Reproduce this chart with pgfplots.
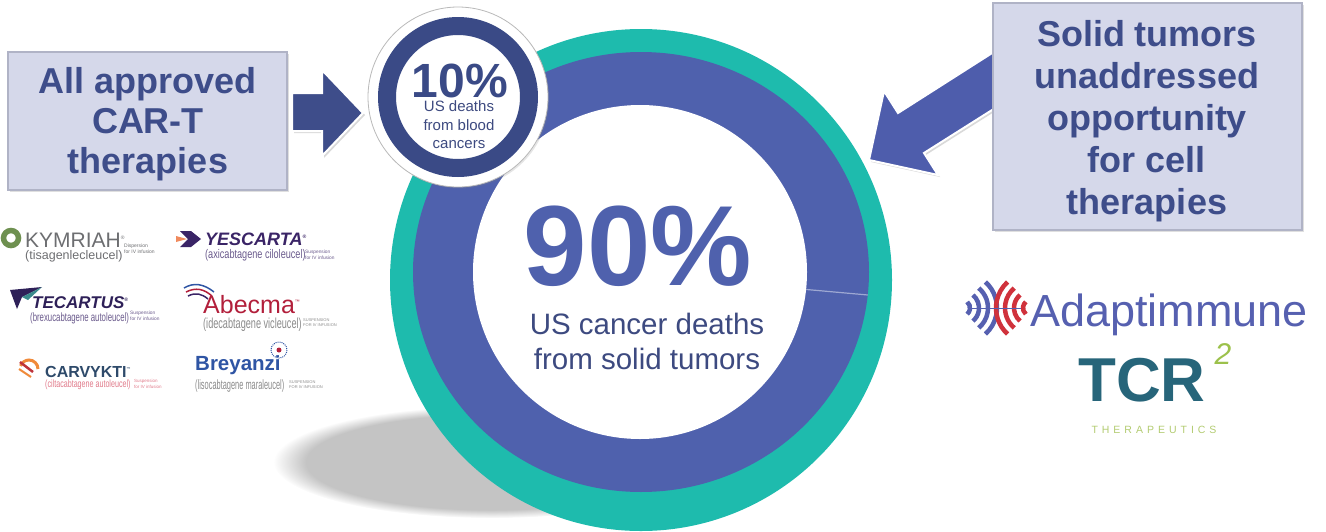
\documentclass[border=0pt]{standalone}
\usepackage{pgfplots}
\pgfplotsset{compat=1.18}
\usepackage{pgfplotstable}
\usepackage{fontspec}
\setmainfont{Liberation Sans}
\newfontfamily\spaced[LetterSpace=38]{Liberation Sans}
\usetikzlibrary{shadows,fadings}
\definecolor{teal1}{HTML}{1EBBAD}
\definecolor{ringblue}{HTML}{4F61AD}
\definecolor{darkring}{HTML}{3A4A86}
\definecolor{txtblue}{HTML}{3D4A80}
\definecolor{boxfill}{HTML}{D5D8EA}
\definecolor{boxline}{HTML}{B0B3C6}
\definecolor{arrowL}{HTML}{3E4D8A}
\definecolor{arrowR}{HTML}{4E5DAC}
\definecolor{shadowgray}{HTML}{C4C4C4}
\definecolor{kymgray}{HTML}{6D6E71}
\definecolor{kymgreen}{HTML}{6E9050}
\definecolor{yespurple}{HTML}{3A2466}
\definecolor{yessub}{HTML}{6A5A8C}
\definecolor{yesorange}{HTML}{F08A5D}
\definecolor{tecpurple}{HTML}{2E2058}
\definecolor{tecteal}{HTML}{3A8A8C}
\definecolor{abred}{HTML}{B21F3B}
\definecolor{subgray}{HTML}{8A8A8A}
\definecolor{carblue}{HTML}{2E4A6A}
\definecolor{carpink}{HTML}{E07A8A}
\definecolor{carorange}{HTML}{F08A3A}
\definecolor{brblue}{HTML}{2F55A4}
\definecolor{adblue}{HTML}{5660B0}
\definecolor{adred}{HTML}{D0323C}
\definecolor{tcrteal}{HTML}{27657A}
\definecolor{tcrgreen}{HTML}{9CC14B}
\definecolor{tcrlight}{HTML}{B2CB70}
\pgfplotstableread{
segment share
solid 90
blood 10
}\deathshares
\begin{document}
\begin{tikzpicture}
\begin{axis}[width=1326pt,height=531pt,scale only axis,
  xmin=0,xmax=1326,ymin=0,ymax=531,y dir=reverse,
  axis lines=none,ticks=none,clip=false]
% shadow under the donut
\fill[shadowgray,path fading=circle with fuzzy edge 15 percent] (axis cs:492,462) ellipse[x radius=218,y radius=56];
% donut
\fill[teal1] (axis cs:641,280) circle[radius=251];
\fill[ringblue] (axis cs:641,272) ellipse[x radius=228,y radius=220];
\fill[white] (axis cs:640,272) circle[radius=167];
\draw[color=ringblue!55!white,line width=1.2] (axis cs:{640+167*cos(6)},{272+167*sin(6)}) -- (axis cs:{641+228*cos(6)},{272+220*sin(6)});
% big centre text
\node[anchor=base,text=ringblue,font=\fontsize{114}{114}\selectfont\bfseries,inner sep=0] at (axis cs:638,285) {90\%};
\node[anchor=base,text=txtblue,font=\fontsize{29.5}{29.5}\selectfont,inner sep=0] at (axis cs:647,334) {US cancer deaths};
\node[anchor=base,text=txtblue,font=\fontsize{29.5}{29.5}\selectfont,inner sep=0] at (axis cs:647,369) {from solid tumors};
% left box
\filldraw[fill=boxfill,draw=boxline,line width=1.2,drop shadow={shadow xshift=2pt,shadow yshift=-2pt,opacity=0.25}] (axis cs:8,52) rectangle (axis cs:287,190);
\node[anchor=base,text=arrowL,font=\fontsize{36}{36}\selectfont\bfseries,inner sep=0] at (axis cs:148,93) {All approved};
\node[anchor=base,text=arrowL,font=\fontsize{36}{36}\selectfont\bfseries,inner sep=0] at (axis cs:148,133) {CAR-T};
\node[anchor=base,text=arrowL,font=\fontsize{36}{36}\selectfont\bfseries,inner sep=0] at (axis cs:148,173) {therapies};
% left arrow
\filldraw[fill=arrowL,draw=white,line width=2,drop shadow={shadow xshift=2pt,shadow yshift=-2pt,opacity=0.3}] (axis cs:292,93) -- (axis cs:322,93) -- (axis cs:322,70) -- (axis cs:363,113) -- (axis cs:322,156) -- (axis cs:322,131) -- (axis cs:292,131) -- cycle;
% small circle
\filldraw[fill=white,draw=gray!55,line width=0.8,drop shadow={shadow xshift=1.5pt,shadow yshift=-1.5pt,opacity=0.2}] (axis cs:458,97) circle[radius=90];
\fill[darkring,even odd rule] (axis cs:458,97) circle[radius=80] (axis cs:458,97) circle[radius=62];
\node[anchor=base,text=darkring,font=\fontsize{48}{48}\selectfont\bfseries,inner sep=0] at (axis cs:460,97) {10\%};
\node[anchor=base,text=txtblue,font=\fontsize{15}{15}\selectfont,inner sep=0] at (axis cs:459,111) {US deaths};
\node[anchor=base,text=txtblue,font=\fontsize{15}{15}\selectfont,inner sep=0] at (axis cs:459,130) {from blood};
\node[anchor=base,text=txtblue,font=\fontsize{15}{15}\selectfont,inner sep=0] at (axis cs:459,148) {cancers};
% right arrow
\filldraw[fill=arrowR,draw=white,line width=2,drop shadow={shadow xshift=2pt,shadow yshift=-2pt,opacity=0.3}] (axis cs:1000,48) -- (axis cs:898,113) -- (axis cs:884,91) -- (axis cs:869,160) -- (axis cs:938,175) -- (axis cs:924,153) -- (axis cs:1000,105) -- cycle;
% right box
\filldraw[fill=boxfill,draw=boxline,line width=1.2,drop shadow={shadow xshift=2pt,shadow yshift=-2pt,opacity=0.25}] (axis cs:993,3) rectangle (axis cs:1302,230);
\node[anchor=base,text=arrowL,font=\fontsize{36}{36}\selectfont\bfseries,inner sep=0] at (axis cs:1147,46) {Solid tumors};
\node[anchor=base,text=arrowL,font=\fontsize{36}{36}\selectfont\bfseries,inner sep=0] at (axis cs:1147,88) {unaddressed};
\node[anchor=base,text=arrowL,font=\fontsize{36}{36}\selectfont\bfseries,inner sep=0] at (axis cs:1147,130) {opportunity};
\node[anchor=base,text=arrowL,font=\fontsize{36}{36}\selectfont\bfseries,inner sep=0] at (axis cs:1147,172) {for cell};
\node[anchor=base,text=arrowL,font=\fontsize{36}{36}\selectfont\bfseries,inner sep=0] at (axis cs:1147,214) {therapies};
% ---- CAR-T logos ----
% KYMRIAH
\draw[color=kymgreen,line width=5.5] (axis cs:11,238) circle[radius=7.5];
\node[anchor=base west,text=kymgray,font=\fontsize{21}{21}\selectfont,inner sep=0] at (axis cs:25,247) {KYMRIAH\raisebox{8pt}{\fontsize{5}{5}\selectfont ®}};
\node[anchor=base west,text=kymgray,font=\fontsize{12.5}{12.5}\selectfont,inner sep=0] at (axis cs:25,259) {(tisagenlecleucel)};
\node[anchor=base west,text=kymgray,font=\fontsize{5}{6}\selectfont,inner sep=0,align=left] at (axis cs:124,253) {Dispersion\\for IV infusion};
% YESCARTA
\fill[yesorange] (axis cs:176,236) -- (axis cs:187,239) -- (axis cs:176,242) -- cycle;
\fill[yespurple] (axis cs:180,231) -- (axis cs:191,231) -- (axis cs:201,239) -- (axis cs:191,247) -- (axis cs:180,247) -- (axis cs:188,239) -- cycle;
\node[anchor=base west,text=yespurple,font=\fontsize{18}{18}\selectfont\bfseries\itshape,inner sep=0] at (axis cs:205,245) {YESCARTA\raisebox{7pt}{\fontsize{5}{5}\selectfont ®}};
\node[anchor=base west,text=yessub,font=\fontsize{12.5}{12.5}\selectfont,inner sep=0] at (axis cs:205,258) {\scalebox{0.73}[1]{(axicabtagene ciloleucel)}};
\node[anchor=base west,text=yessub,font=\fontsize{4.8}{6}\selectfont,inner sep=0] at (axis cs:305,253) {Suspension};
\node[anchor=base west,text=yessub,font=\fontsize{4.8}{6}\selectfont,inner sep=0] at (axis cs:305,259) {for IV infusion};
% TECARTUS
\fill[tecpurple] (axis cs:10,290) -- (axis cs:42,287) -- (axis cs:22,297) -- (axis cs:17,309) -- cycle;
\fill[tecteal] (axis cs:22,297) -- (axis cs:42,287) -- (axis cs:28,300) -- cycle;
\node[anchor=base west,text=tecpurple,font=\fontsize{17}{17}\selectfont\bfseries\itshape,inner sep=0] at (axis cs:32,308) {TECARTUS\raisebox{7pt}{\fontsize{5}{5}\selectfont ®}};
\node[anchor=base west,text=yessub,font=\fontsize{12}{12}\selectfont,inner sep=0] at (axis cs:30,321) {\scalebox{0.65}[1]{(brexucabtagene autoleucel)}};
\node[anchor=base west,text=yessub,font=\fontsize{4.8}{6}\selectfont,inner sep=0] at (axis cs:130,314) {Suspension};
\node[anchor=base west,text=yessub,font=\fontsize{4.8}{6}\selectfont,inner sep=0] at (axis cs:130,320) {for IV infusion};
% Abecma
\draw[color=brblue,line width=1.5] (axis cs:184,288) .. controls (axis cs:194,282) and (axis cs:204,284) .. (axis cs:214,292);
\draw[color=abred,line width=1.5] (axis cs:186,292) .. controls (axis cs:196,287) and (axis cs:204,289) .. (axis cs:212,296);
\draw[color=yespurple,line width=1.5] (axis cs:188,296) .. controls (axis cs:196,292) and (axis cs:202,294) .. (axis cs:208,299);
\node[anchor=base west,text=abred,font=\fontsize{25}{25}\selectfont,inner sep=0] at (axis cs:203,313) {Abecma\raisebox{10pt}{\fontsize{5}{5}\selectfont ™}};
\node[anchor=base west,text=subgray,font=\fontsize{14.5}{14.5}\selectfont,inner sep=0] at (axis cs:203,328) {\scalebox{0.63}[1]{(idecabtagene vicleucel)}};
\node[anchor=base west,text=subgray,font=\fontsize{4}{5}\selectfont,inner sep=0,align=left] at (axis cs:303,326) {SUSPENSION\\FOR IV INFUSION};
% CARVYKTI
\draw[color=carorange,line width=3] (axis cs:38,369) arc[start angle=0,end angle=-160,radius=9];
\draw[color=abred!80!carorange,line width=2.5] (axis cs:20,362) -- (axis cs:33,372);
\draw[color=carorange,line width=2] (axis cs:19,369) -- (axis cs:31,377);
\node[anchor=base west,text=carblue,font=\fontsize{16}{16}\selectfont\bfseries,inner sep=0] at (axis cs:45,377) {CARVYKTI\raisebox{7pt}{\fontsize{4}{4}\selectfont ™}};
\node[anchor=base west,text=carpink,font=\fontsize{10.5}{10.5}\selectfont,inner sep=0] at (axis cs:45,387) {\scalebox{0.68}[1]{(ciltacabtagene autoleucel)}};
\node[anchor=base west,text=carpink,font=\fontsize{4.5}{5.5}\selectfont,inner sep=0] at (axis cs:134,382.5) {Suspension};
\node[anchor=base west,text=carpink,font=\fontsize{4.5}{5.5}\selectfont,inner sep=0] at (axis cs:134,388) {for IV infusion};
% Breyanzi
\node[anchor=base west,text=brblue,font=\fontsize{20.5}{20.5}\selectfont\bfseries,inner sep=0] at (axis cs:195,370) {Breyanzi};
\draw[color=brblue,line width=1,densely dotted] (axis cs:279,350) circle[radius=8];
\fill[abred] (axis cs:279,350) circle[radius=2.5];
\node[anchor=base west,text=subgray,font=\fontsize{13.5}{13.5}\selectfont,inner sep=0] at (axis cs:195,389) {\scalebox{0.55}[1]{(lisocabtagene maraleucel)}};
\node[anchor=base west,text=subgray,font=\fontsize{4}{5}\selectfont,inner sep=0,align=left] at (axis cs:289,388) {SUSPENSION\\FOR IV INFUSION};
% ---- Adaptimmune ----
\draw[color=adblue,line width=4.5] (axis cs:{962+8*cos(50)},{308-8*sin(50)}) arc[start angle=-50,end angle=50,radius=8];
\draw[color=adblue,line width=4.5] (axis cs:{962+17*cos(50)},{308-17*sin(50)}) arc[start angle=-50,end angle=50,radius=17];
\draw[color=adblue,line width=4.5] (axis cs:{962+26*cos(50)},{308-26*sin(50)}) arc[start angle=-50,end angle=50,radius=26];
\draw[color=adblue,line width=4.5] (axis cs:{962+35*cos(48)},{308-35*sin(48)}) arc[start angle=-48,end angle=48,radius=35];
\draw[color=adred,line width=4.5] (axis cs:{1031-8*cos(50)},{308+8*sin(50)}) arc[start angle=130,end angle=230,radius=8];
\draw[color=adred,line width=4.5] (axis cs:{1031-17*cos(50)},{308+17*sin(50)}) arc[start angle=130,end angle=230,radius=17];
\draw[color=adred,line width=4.5] (axis cs:{1031-26*cos(50)},{308+26*sin(50)}) arc[start angle=130,end angle=230,radius=26];
\draw[color=adred,line width=4.5] (axis cs:{1031-35*cos(48)},{308+35*sin(48)}) arc[start angle=132,end angle=228,radius=35];
\draw[color=adblue,line width=1] (axis cs:972,308) -- (axis cs:1021,308);
\node[anchor=base west,text=adblue,font=\fontsize{45}{45}\selectfont,inner sep=0] at (axis cs:1030,326) {Adaptimmune};
% ---- TCR2 ----
\node[anchor=base,text=tcrteal,font=\fontsize{62}{62}\selectfont\bfseries,inner sep=0] at (axis cs:1142,401) {TCR};
\node[anchor=base,text=tcrgreen,font=\fontsize{30}{30}\selectfont\itshape,inner sep=0] at (axis cs:1223,364) {2};
\node[anchor=base,text=tcrlight,font=\fontsize{10.5}{10.5}\selectfont\spaced,inner sep=0] at (axis cs:1154,433) {THERAPEUTICS};
\end{axis}
\pgfresetboundingbox
\path (0,0) rectangle (1326pt,531pt);
\end{tikzpicture}
\end{document}
